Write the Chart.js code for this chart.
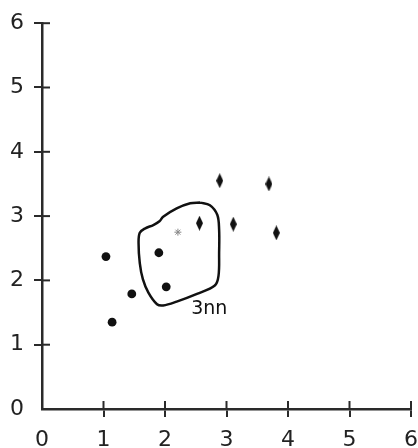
<!DOCTYPE html>
<html lang="en">
<head>
  <meta charset="UTF-8">
  <title>3nn</title>
  <script src="https://cdn.jsdelivr.net/npm/chart.js"></script>
  <style>
    html, body {
      margin: 0;
      padding: 0;
      background: #fff;
    }
    #wrap {
      width: 418px;
      height: 448px;
    }
  </style>
</head>
<body>

<div id="wrap"><canvas id="knnChart"></canvas></div>

<script>
  const circleX = [1.04, 1.14, 1.46, 1.90, 2.02];
  const circleY = [2.37, 1.35, 1.79, 2.43, 1.90];

  const diamondX = [2.56, 2.89, 3.11, 3.69, 3.81];
  const diamondY = [2.89, 3.55, 2.875, 3.50, 2.74];

  const queryX = [2.21];
  const queryY = [2.75];

  // hand drawn loop round the 3 nearest neighbours
  const loopX = [2.57, 2.73, 2.85, 2.88, 2.88, 2.87, 2.81, 2.52, 2.19, 1.97, 1.87, 1.73, 1.64, 1.59, 1.57, 1.59, 1.68, 1.81, 1.91, 1.97, 2.19, 2.41, 2.57];
  const loopY = [3.21, 3.17, 3.02, 2.79, 2.43, 2.07, 1.92, 1.79, 1.67, 1.61, 1.63, 1.81, 2.02, 2.27, 2.58, 2.74, 2.81, 2.86, 2.92, 2.99, 3.12, 3.20, 3.21];

  const labelX = 2.72;
  const labelY = 1.55;
  const labelText = "3nn";

  const tickValues = [0, 1, 2, 3, 4, 5, 6];

  const toPoints = (xs, ys) => xs.map((x, i) => ({ x: x, y: ys[i] }));

  // thin vertical diamond marker
  const diamond = document.createElement("canvas");
  diamond.width = 7;
  diamond.height = 15;
  const dctx = diamond.getContext("2d");
  dctx.fillStyle = "#111";
  dctx.beginPath();
  dctx.moveTo(3.5, 0);
  dctx.lineTo(7, 7.5);
  dctx.lineTo(3.5, 15);
  dctx.lineTo(0, 7.5);
  dctx.closePath();
  dctx.fill();

  const axisColor = "#2a2a2a";
  const tickColor = (c) => (c.tick && c.tick.value === 0) ? "rgba(0,0,0,0)" : axisColor;

  // ticks cross the axis: draw the inner half too
  const innerTicks = {
    id: "innerTicks",
    afterDraw(chart) {
      const c = chart.ctx;
      const xs = chart.scales.x;
      const ys = chart.scales.y;
      c.save();
      c.strokeStyle = axisColor;
      c.lineWidth = 2;
      tickValues.forEach(v => {
        if (v === 0) return;
        const px = xs.getPixelForValue(v);
        c.beginPath();
        c.moveTo(px, xs.top);
        c.lineTo(px, xs.top - 8);
        c.stroke();
        const py = ys.getPixelForValue(v);
        c.beginPath();
        c.moveTo(ys.right, py);
        c.lineTo(ys.right + 8, py);
        c.stroke();
      });
      c.fillStyle = "#111";
      c.font = "19px 'DejaVu Sans'";
      c.textAlign = "center";
      c.textBaseline = "middle";
      c.fillText(labelText, xs.getPixelForValue(labelX), ys.getPixelForValue(labelY));
      c.restore();
    }
  };

  const ctx = document.getElementById("knnChart").getContext("2d");
  new Chart(ctx, {
    type: "scatter",
    data: {
      datasets: [
        {
          type: "line",
          data: toPoints(loopX, loopY),
          borderColor: "#111",
          borderWidth: 2.5,
          pointRadius: 0,
          tension: 0.35,
          fill: false
        },
        {
          data: toPoints(circleX, circleY),
          pointStyle: "circle",
          pointRadius: 4.4,
          backgroundColor: "#111",
          borderColor: "#111",
          borderWidth: 0
        },
        {
          data: toPoints(diamondX, diamondY),
          pointStyle: diamond
        },
        {
          data: toPoints(queryX, queryY),
          pointStyle: "star",
          pointRadius: 3.5,
          borderColor: "#888",
          backgroundColor: "#888",
          borderWidth: 1
        }
      ]
    },
    options: {
      responsive: true,
      maintainAspectRatio: false,
      animation: false,
      layout: {
        padding: { top: 21, right: 7, left: 0, bottom: 0 }
      },
      plugins: {
        legend: { display: false },
        tooltip: { enabled: false }
      },
      scales: {
        x: {
          type: "linear",
          min: 0,
          max: 6,
          afterFit: (s) => { s.height = 39; s.paddingLeft = 0; s.paddingRight = 0; },
          afterBuildTicks: (s) => { s.ticks = tickValues.map(v => ({ value: v })); },
          border: { color: axisColor, width: 2.5 },
          grid: {
            drawOnChartArea: false,
            drawTicks: true,
            tickLength: 8,
            color: tickColor,
            lineWidth: 2
          },
          ticks: {
            color: "#222",
            padding: 10,
            maxRotation: 0,
            autoSkip: false,
            font: { family: "'DejaVu Sans'", size: 22 }
          }
        },
        y: {
          type: "linear",
          min: 0,
          max: 6,
          afterFit: (s) => { s.width = 42; },
          afterBuildTicks: (s) => { s.ticks = tickValues.map(v => ({ value: v })); },
          border: { color: axisColor, width: 2.5 },
          grid: {
            drawOnChartArea: false,
            drawTicks: true,
            tickLength: 8,
            color: tickColor,
            lineWidth: 2
          },
          ticks: {
            color: "#222",
            padding: 10,
            autoSkip: false,
            font: { family: "'DejaVu Sans'", size: 22 }
          }
        }
      }
    },
    plugins: [innerTicks]
  });
</script>

</body>
</html>
